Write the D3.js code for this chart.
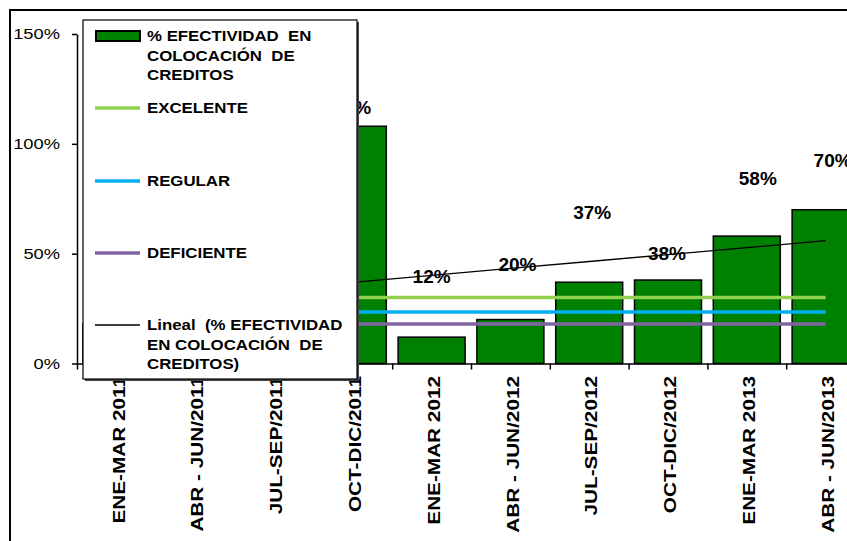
<!DOCTYPE html>
<html>
<head>
<meta charset="utf-8">
<script src="https://cdn.jsdelivr.net/npm/d3@7"></script>
<style>
  body { margin: 0; background: #fff; }
  svg text { font-family: "Liberation Sans", Arial, sans-serif; fill: #000; }
</style>
</head>
<body>
<div id="chart"></div>
<script>
// data (first three bars sit behind the legend)
var categories = ["ENE-MAR 2011", "ABR - JUN/2011", "JUL-SEP/2011", "OCT-DIC/2011",
  "ENE-MAR 2012", "ABR - JUN/2012", "JUL-SEP/2012", "OCT-DIC/2012",
  "ENE-MAR 2013", "ABR - JUN/2013"];
var efectividad = [18, 29, 27, 108, 12, 20, 37, 38, 58, 70];
var excelente  = [30, 30, 30, 30, 30, 30, 30, 30, 30, 30];
var regular    = [23.5, 23.5, 23.5, 23.5, 23.5, 23.5, 23.5, 23.5, 23.5, 23.5];
var deficiente = [18, 18, 18, 18, 18, 18, 18, 18, 18, 18];
var yTicks = [0, 50, 100, 150];

// the value labels were dragged around by hand in the original, px offsets from bar top
var labelNudge = [[0, -15], [0, -15], [0, -15], [-6, -19], [0, -61], [7, -55], [3, -70], [-1, -27], [11, -58], [7, -50]];

var svgWidth = 847, svgHeight = 541;
var plot = { left: 77, right: 865, top: 34, bottom: 363.5 };

var svg = d3.select("#chart").append("svg")
  .attr("width", svgWidth)
  .attr("height", svgHeight);

// stretch text horizontally like the original rendering
function stretch(sel, k) {
  sel.each(function() {
    var L = this.getComputedTextLength();
    this.setAttribute("textLength", L * k);
    this.setAttribute("lengthAdjust", "spacingAndGlyphs");
  });
}

// outer chart border
svg.append("rect")
  .attr("x", 10).attr("y", 10)
  .attr("width", 900).attr("height", 600)
  .attr("fill", "none")
  .attr("stroke", "#000")
  .attr("stroke-width", 2);

var x = d3.scaleBand()
  .domain(categories)
  .range([plot.left, plot.right])
  .paddingInner(0.15)
  .paddingOuter(0.075);

var xIdx = d3.scaleLinear().domain([0, categories.length]).range([plot.left, plot.right]);

var y = d3.scaleLinear().domain([0, 150]).range([plot.bottom, plot.top]);

function cx(i) { return x(categories[i]) + x.bandwidth() / 2; }

// y axis
var leftAxis = d3.axisLeft(y)
  .tickValues(yTicks)
  .tickFormat(d => d + "%")
  .tickSize(5)
  .tickSizeOuter(0)
  .tickPadding(12);

var yAxis = svg.append("g")
  .attr("transform", `translate(${plot.left}, 0)`)
  .call(leftAxis);
yAxis.select(".domain").attr("stroke", "#000").attr("stroke-width", 1.5);
yAxis.selectAll(".tick line").attr("stroke", "#000").attr("stroke-width", 1.5);
yAxis.selectAll(".tick text")
  .attr("font-size", "15px")
  .attr("fill", "#000")
  .call(stretch, 1.22);

// bars
svg.selectAll(".bar")
  .data(efectividad)
  .enter()
  .append("rect")
  .attr("class", "bar")
  .attr("x", (d, i) => x(categories[i]))
  .attr("y", d => y(d))
  .attr("width", x.bandwidth())
  .attr("height", d => y(0) - y(d))
  .attr("fill", "#008000")
  .attr("stroke", "#000")
  .attr("stroke-width", 1.5);

// x axis with ticks on category boundaries
var bottomAxis = d3.axisBottom(xIdx)
  .ticks(categories.length)
  .tickFormat("")
  .tickSize(6)
  .tickSizeOuter(0);

var xAxis = svg.append("g")
  .attr("transform", `translate(0, ${plot.bottom})`)
  .call(bottomAxis);
xAxis.select(".domain").attr("stroke", "#000").attr("stroke-width", 1.5);
xAxis.selectAll(".tick line").attr("stroke", "#000").attr("stroke-width", 1.5);

// category labels, rotated
svg.selectAll(".cat")
  .data(categories)
  .enter()
  .append("text")
  .attr("class", "cat")
  .attr("transform", (d, i) => `translate(${cx(i) + 2}, 376) rotate(-90)`)
  .attr("text-anchor", "end")
  .attr("dy", "0.36em")
  .attr("font-size", "17px")
  .attr("font-weight", "bold")
  .text(d => d)
  .call(stretch, 1.22);

// threshold lines
var line = d3.line()
  .x((d, i) => cx(i))
  .y(d => y(d));

var thresholds = [
  { values: excelente, color: "#92D050" },
  { values: regular, color: "#00B0F0" },
  { values: deficiente, color: "#8064A2" }
];

thresholds.forEach(function(t) {
  svg.append("path")
    .datum(t.values)
    .attr("d", line)
    .attr("fill", "none")
    .attr("stroke", t.color)
    .attr("stroke-width", 3.5);
});

// linear trend of the bars
var idx = d3.range(efectividad.length);
var mx = d3.mean(idx), my = d3.mean(efectividad);
var slope = d3.sum(idx, i => (i - mx) * (efectividad[i] - my)) / d3.sum(idx, i => (i - mx) * (i - mx));
var intercept = my - slope * mx;
var trend = idx.map(i => intercept + slope * i);

svg.append("path")
  .datum(trend)
  .attr("d", line)
  .attr("fill", "none")
  .attr("stroke", "#000")
  .attr("stroke-width", 1.3);

// value labels
svg.selectAll(".val")
  .data(efectividad)
  .enter()
  .append("text")
  .attr("class", "val")
  .attr("x", (d, i) => cx(i) + labelNudge[i][0])
  .attr("y", (d, i) => y(d) + labelNudge[i][1])
  .attr("dy", "0.36em")
  .attr("text-anchor", "middle")
  .attr("font-size", "19px")
  .attr("font-weight", "bold")
  .text(d => d + "%");

// legend (sits on top of the first bars)
var legendItems = [
  { kind: "bar", color: "#008000", lines: ["% EFECTIVIDAD  EN", "COLOCACIÓN  DE", "CREDITOS"] },
  { kind: "line", color: "#92D050", lines: ["EXCELENTE"] },
  { kind: "line", color: "#00B0F0", lines: ["REGULAR"] },
  { kind: "line", color: "#8064A2", lines: ["DEFICIENTE"] },
  { kind: "trend", color: "#000", lines: ["Lineal  (% EFECTIVIDAD", "EN COLOCACIÓN  DE", "CREDITOS)"] }
];
var legendRows = [36, 108, 181, 253, 325];

var legend = svg.append("g");
legend.append("rect")
  .attr("x", 85).attr("y", 22)
  .attr("width", 274).attr("height", 359)
  .attr("fill", "#444");
legend.append("rect")
  .attr("x", 83).attr("y", 20)
  .attr("width", 274).attr("height", 359)
  .attr("fill", "#fff")
  .attr("stroke", "#000")
  .attr("stroke-width", 1.2);

legendItems.forEach(function(item, i) {
  var ry = legendRows[i];
  if (item.kind === "bar") {
    legend.append("rect")
      .attr("x", 96).attr("y", ry - 5)
      .attr("width", 44).attr("height", 10)
      .attr("fill", item.color)
      .attr("stroke", "#000")
      .attr("stroke-width", 2);
  } else {
    legend.append("line")
      .attr("x1", 95).attr("x2", 140)
      .attr("y1", ry).attr("y2", ry)
      .attr("stroke", item.color)
      .attr("stroke-width", item.kind === "trend" ? 1.5 : 3.5);
  }
  legend.selectAll(null)
    .data(item.lines)
    .enter()
    .append("text")
    .attr("x", 147)
    .attr("y", (d, j) => ry + j * 19.5)
    .attr("dy", "0.36em")
    .attr("font-size", "14.5px")
    .attr("font-weight", "bold")
    .attr("xml:space", "preserve")
    .style("white-space", "pre")
    .text(d => d)
    .call(stretch, 1.16);
});
</script>
</body>
</html>
